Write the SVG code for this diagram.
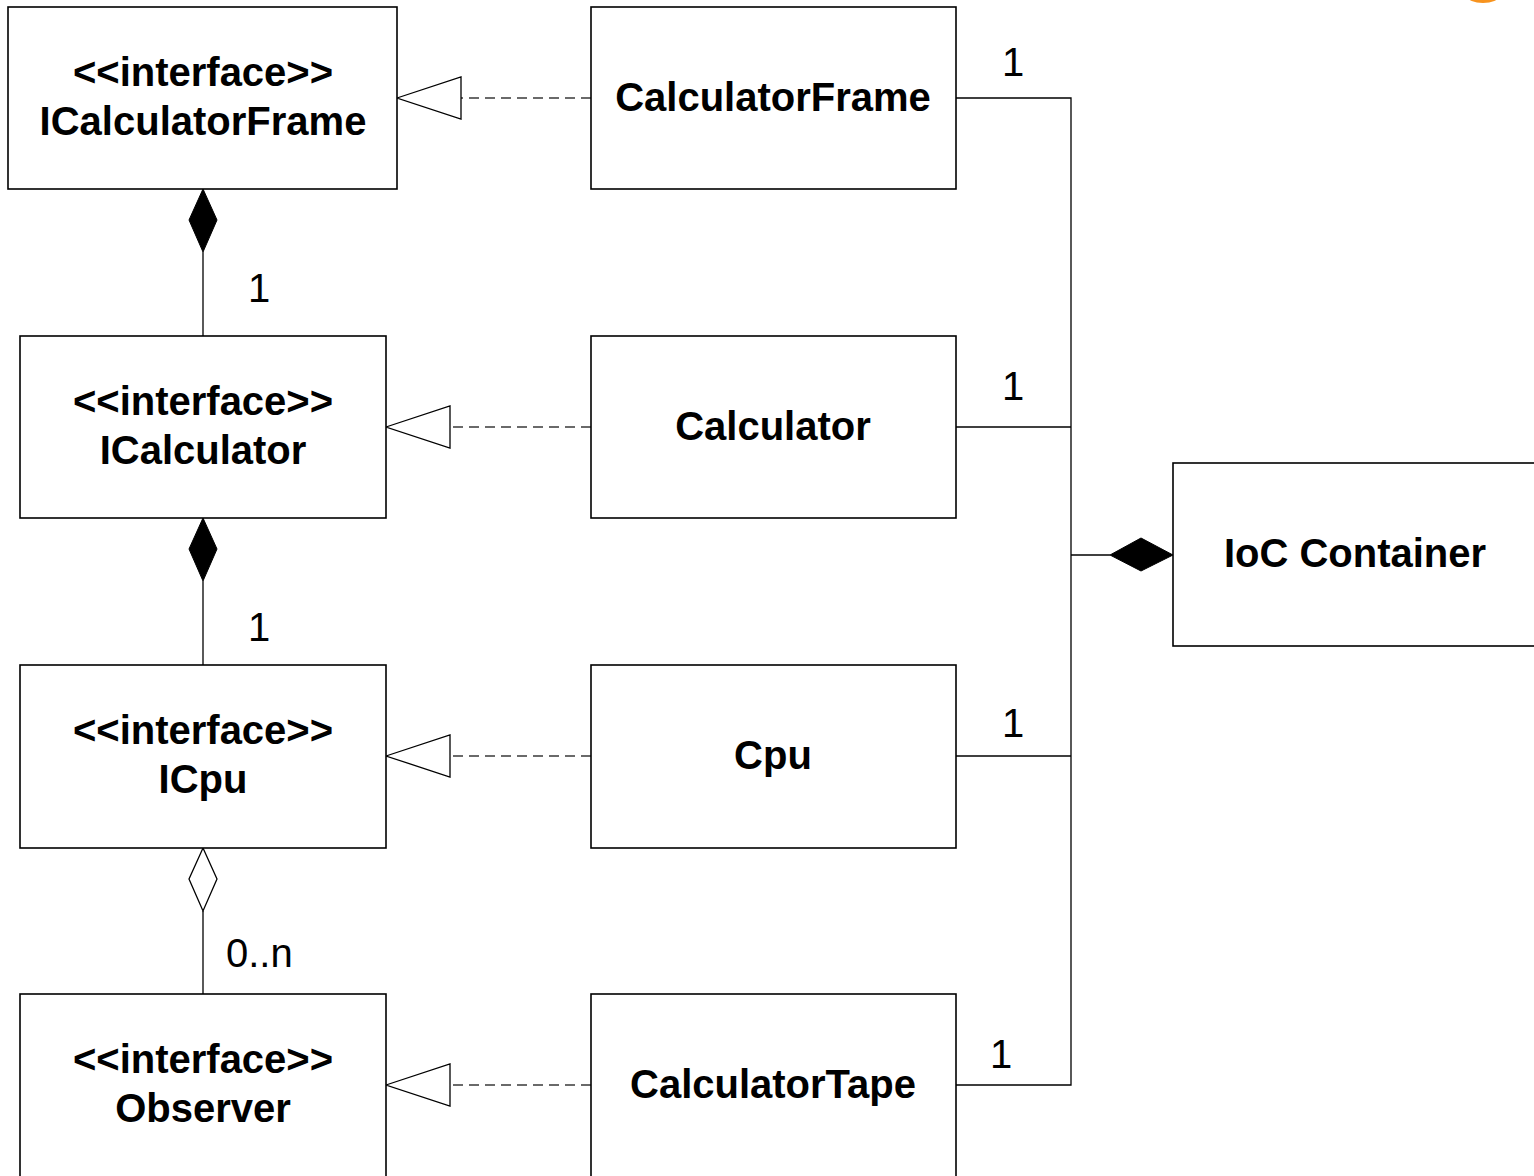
<svg xmlns="http://www.w3.org/2000/svg" width="1534" height="1176" viewBox="0 0 1534 1176">
<style>
.box{fill:#fff;stroke:#000;stroke-width:1.6}
.t{font-family:"Liberation Sans",Arial,sans-serif;font-weight:bold;font-size:40px;text-anchor:middle;fill:#000}
.n{font-family:"Liberation Sans",Arial,sans-serif;font-size:40px;fill:#000}
.line{fill:none;stroke:#000;stroke-width:1.3}
.dash{fill:none;stroke:#3a3a3a;stroke-width:1.5;stroke-dasharray:10 6}
.tri{fill:#fff;stroke:#000;stroke-width:1.3}
.dia{fill:#000;stroke:#000;stroke-width:1}
.odia{fill:#fff;stroke:#000;stroke-width:1.3}
</style>
<rect width="1534" height="1176" fill="#fff"/>
<ellipse cx="1483" cy="-4" rx="16" ry="7" fill="#f7931e"/>
<g id="connectors">
  <line class="dash" x1="591" y1="98" x2="461" y2="98"/>
  <polygon class="tri" points="397,98 461,77 461,119"/>
  <line class="dash" x1="591" y1="427" x2="450" y2="427"/>
  <polygon class="tri" points="386,427 450,406 450,448"/>
  <line class="dash" x1="591" y1="756" x2="450" y2="756"/>
  <polygon class="tri" points="386,756 450,735 450,777"/>
  <line class="dash" x1="591" y1="1085" x2="450" y2="1085"/>
  <polygon class="tri" points="386,1085 450,1064 450,1106"/>
  <line class="line" x1="203" y1="252" x2="203" y2="336"/>
  <polygon class="dia" points="203,189 217,220 203,252 189,220"/>
  <line class="line" x1="203" y1="581" x2="203" y2="665"/>
  <polygon class="dia" points="203,518 217,549 203,581 189,549"/>
  <line class="line" x1="203" y1="911" x2="203" y2="994"/>
  <polygon class="odia" points="203,848 217,879 203,911 189,879"/>
  <polyline class="line" points="956,98 1071,98 1071,1085 956,1085"/>
  <line class="line" x1="956" y1="427" x2="1071" y2="427"/>
  <line class="line" x1="956" y1="756" x2="1071" y2="756"/>
  <line class="line" x1="1071" y1="555" x2="1110" y2="555"/>
  <polygon class="dia" points="1110,555 1141,538 1173,555 1141,571"/>
  <text class="n" x="248" y="302">1</text>
  <text class="n" x="248" y="641">1</text>
  <text class="n" x="226" y="967">0..n</text>
  <text class="n" x="1002" y="76">1</text>
  <text class="n" x="1002" y="400">1</text>
  <text class="n" x="1002" y="737">1</text>
  <text class="n" x="990" y="1068">1</text>
</g>
<g id="ICalculatorFrame">
  <rect class="box" x="8" y="7" width="389" height="182"/>
  <text class="t" x="203" y="86">&lt;&lt;interface&gt;&gt;</text>
  <text class="t" x="203" y="135">ICalculatorFrame</text>
</g>
<g id="ICalculator">
  <rect class="box" x="20" y="336" width="366" height="182"/>
  <text class="t" x="203" y="415">&lt;&lt;interface&gt;&gt;</text>
  <text class="t" x="203" y="464">ICalculator</text>
</g>
<g id="ICpu">
  <rect class="box" x="20" y="665" width="366" height="183"/>
  <text class="t" x="203" y="744">&lt;&lt;interface&gt;&gt;</text>
  <text class="t" x="203" y="793">ICpu</text>
</g>
<g id="Observer">
  <rect class="box" x="20" y="994" width="366" height="200"/>
  <text class="t" x="203" y="1073">&lt;&lt;interface&gt;&gt;</text>
  <text class="t" x="203" y="1122">Observer</text>
</g>
<g id="CalculatorFrame">
  <rect class="box" x="591" y="7" width="365" height="182"/>
  <text class="t" x="773" y="111">CalculatorFrame</text>
</g>
<g id="Calculator">
  <rect class="box" x="591" y="336" width="365" height="182"/>
  <text class="t" x="773" y="440">Calculator</text>
</g>
<g id="Cpu">
  <rect class="box" x="591" y="665" width="365" height="183"/>
  <text class="t" x="773" y="769">Cpu</text>
</g>
<g id="CalculatorTape">
  <rect class="box" x="591" y="994" width="365" height="200"/>
  <text class="t" x="773" y="1098">CalculatorTape</text>
</g>
<g id="IoCContainer">
  <rect class="box" x="1173" y="463" width="380" height="183"/>
  <text class="t" x="1355" y="567">IoC Container</text>
</g>
</svg>
